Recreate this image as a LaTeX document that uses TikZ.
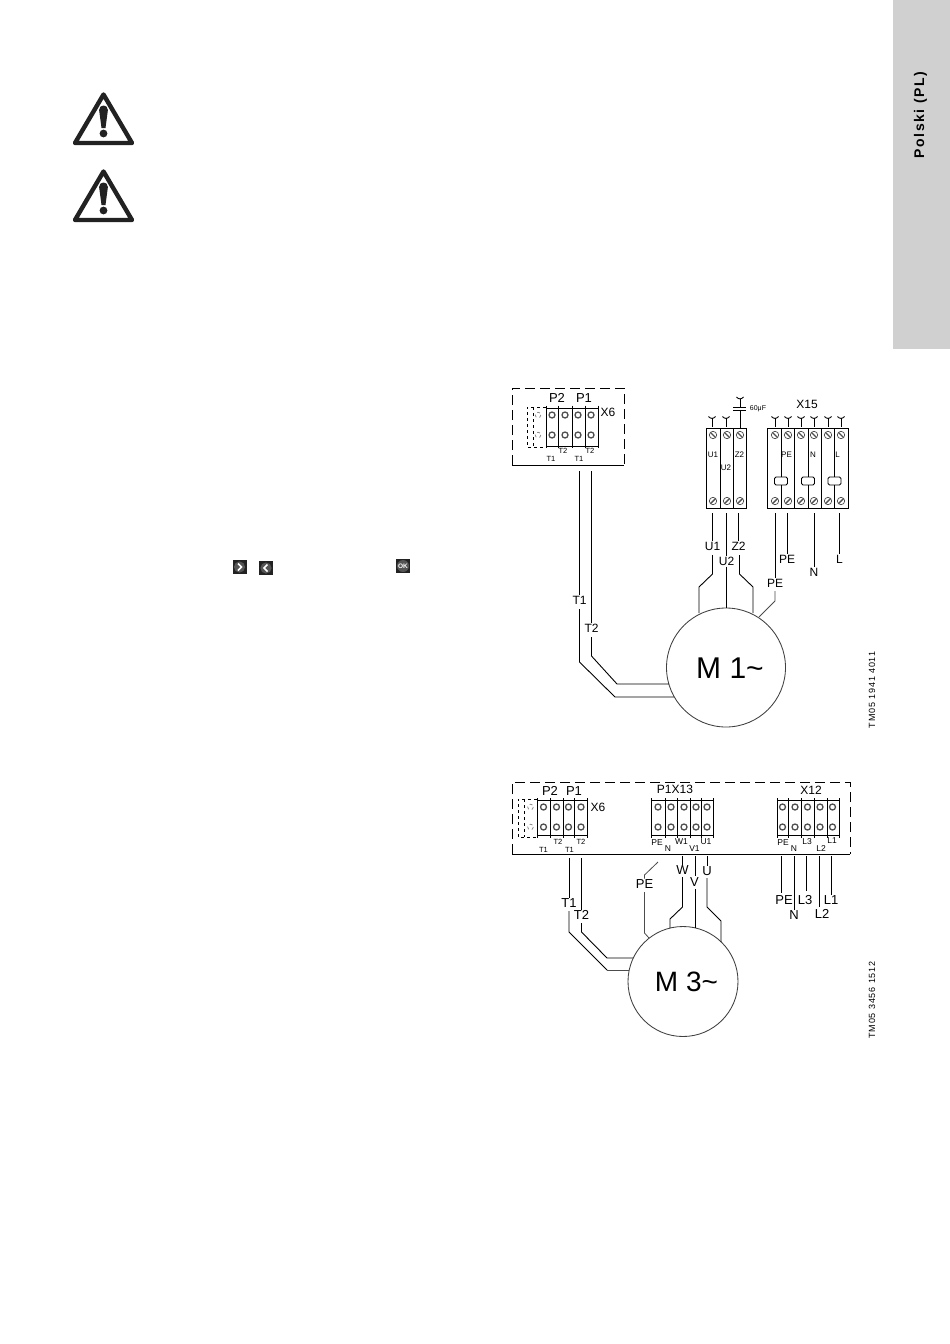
\documentclass[tikz,border=0pt]{standalone}
\usepackage{fontspec}
\setmainfont{Liberation Sans}
\definecolor{tabgray}{HTML}{D0D0D0}
\definecolor{ringgray}{HTML}{505050}
\definecolor{icondark}{HTML}{222222}
\definecolor{iconmid}{HTML}{555555}
\newcommand{\fs}[1]{\fontsize{#1}{#1}\selectfont}
\newcommand{\ringscrew}[2]{\draw[ringgray,line width=1.3pt] (#1,#2) circle (3);}
\newcommand{\slotscrew}[2]{\draw[line width=.7pt,ringgray] (#1,#2) circle (3.7);\draw[line width=1.4pt,ringgray] (#1-2.5,#2-2.5) -- (#1+2.5,#2+2.5);}
\newcommand{\slotscrewb}[2]{\draw[line width=.7pt,ringgray] (#1,#2) circle (3.7);\draw[line width=1.4pt,ringgray] (#1-2.5,#2+2.5) -- (#1+2.5,#2-2.5);}
\newcommand{\cupsym}[2]{\draw[thin wire] (#1-3.5,#2) .. controls (#1-1.5,#2+2.5) and (#1+1.5,#2+2.5) .. (#1+3.5,#2);\draw[thin wire] (#1,#2+1.5) -- (#1,427);}
\newcommand{\warn}[2]{%
 \draw[line width=4.4pt,line join=round,icondark] (#1,#2+3.5) -- (#1+28.5,#2+52) -- (#1-28.5,#2+52) -- cycle;
 \fill[icondark] (#1-4.4,#2+19) .. controls (#1-4.4,#2+13) and (#1+4.4,#2+13) .. (#1+4.4,#2+19) -- (#1+2,#2+37) -- (#1-2,#2+37) -- cycle;
 \fill[icondark] (#1,#2+42.5) circle (3.9);}
\tikzset{
 thin wire/.style={line width=.9pt,black},
 box line/.style={line width=.85pt,black},
 dash box/.style={line width=.85pt,dash pattern=on 10pt off 5pt},
 lab/.style={font=\fs{12},inner sep=1pt,text height=8.4pt,text depth=0pt},
 tiny/.style={font=\fs{7.5},inner sep=0pt},
 motor/.style={circle,draw=black!75,line width=.85pt,inner sep=0pt},
}
\begin{document}
\begin{tikzpicture}[x=1pt,y=-1pt]
\useasboundingbox (0,0) rectangle (950,1344);
\fill[white] (0,0) rectangle (950,1344);
% side tab
\fill[tabgray] (893,0) rectangle (950,349);
\node[rotate=90,font=\fs{14}\bfseries,inner sep=0pt] (tab) at (920.5,115) {\addfontfeature{LetterSpace=11}Polski (PL)};
% warnings
\warn{103.5}{91}
\warn{103.5}{168}
% key icons
\fill[icondark] (232.5,560) rectangle (246.5,574);
\fill[iconmid] (239.5,567) circle (5.6);
\draw[white,line width=1.6pt] (238,563.5) -- (241.5,567) -- (238,570.5);
\fill[icondark] (259,561) rectangle (273,575);
\fill[iconmid] (266,568) circle (5.6);
\draw[white,line width=1.6pt] (267.5,564.5) -- (264,568) -- (267.5,571.5);
\fill[icondark] (396,559) rectangle (410,573);
\fill[iconmid] (403,566) circle (6);
\node[font=\fs{6.5}\bfseries,text=white,inner sep=0pt] (okk) at (403,566) {OK};

%%% ---------- upper diagram
\draw[dash box] (512,465) -- (512,388) -- (624,388) -- (624,465);
\draw[box line] (512,465) -- (624,465);
% X6
\draw[dashed,line width=.7pt] (546,407) -- (527,407) -- (527,447) -- (546,447);
\draw[dashed,line width=.7pt] (533,407) -- (533,447);
\foreach \x in {546,558.5,572,585,598} {\draw[box line] (\x,405.5) -- (\x,448);}
\draw[line width=.7pt] (546,408) -- (598,408) (546,446) -- (598,446);
\foreach \x in {552,565,578,591} {\ringscrew{\x}{415}\ringscrew{\x}{435}}
\foreach \y in {415,435} {\draw[dashed,gray,line width=.7pt] (538,\y) circle (2.8);}
\node[lab,font=\fs{13}] (p2a) at (557,398) {P2};
\node[lab,font=\fs{13}] (p1a) at (584,398) {P1};
\node[lab] (x6a) at (608,412) {X6};
\node[tiny] (t2a) at (563,450.5) {T2};
\node[tiny] (t2b) at (590,450.5) {T2};
\node[tiny] (t1a) at (551,459) {T1};
\node[tiny] (t1b) at (579,459) {T1};
% block 1
\draw[box line] (706,428) rectangle (746,508);
\draw[box line] (720,428) -- (720,508) (733,428) -- (733,508);
\foreach \x in {713,727,740} {\slotscrew{\x}{435}\slotscrewb{\x}{501}}
\cupsym{712}{416.5}\cupsym{726}{416.5}
\draw[thin wire] (736.5,397) .. controls (738.5,399.5) and (741.5,399.5) .. (743.5,397);
\draw[thin wire] (740,398.5) -- (740,407);
\draw[box line] (733,407) -- (746,407) (733,410.5) -- (746,410.5);
\draw[thin wire] (740,410.5) -- (740,428);
\node[font=\fs{7},inner sep=0pt] (cap) at (758,409) {60μF};
\node[font=\fs{8},inner sep=0pt] (u1t) at (713,455) {U1};
\node[font=\fs{8},inner sep=0pt] (u2t) at (726,468) {U2};
\node[font=\fs{8},inner sep=0pt] (z2t) at (739.5,455) {Z2};
% block 2
\draw[box line] (767,428) rectangle (848,508);
\draw[box line] (794,428) -- (794,508) (821,428) -- (821,508);
\foreach \x in {781,808,834.5} {
 \draw[box line] (\x,428) -- (\x,477) (\x,485) -- (\x,508);
 \draw[box line,rounded corners=1.5pt] (\x-6.5,477) rectangle (\x+6.5,485);
}
\foreach \x in {775,788,801,814,828,841} {\slotscrew{\x}{435}\slotscrewb{\x}{501}\cupsym{\x}{416.5}}
\node[font=\fs{8},inner sep=0pt] (pet) at (786.5,455) {PE};
\node[font=\fs{8},inner sep=0pt] (nt) at (813,455) {N};
\node[font=\fs{8},inner sep=0pt] (lt) at (837.5,455) {L};
\node[lab] (x15) at (807,404) {X15};
% motor 1
\node[motor,minimum size=119pt] (m1) at (726,667.5) {};
\node[font=\fs{30},inner sep=0pt] (m1t) at (730,668) {M 1\char`~};
% T wires
\node[lab] (lT1) at (579.5,600) {T1};
\node[lab] (lT2) at (591.5,628) {T2};
\draw[thin wire] (579.5,471) -- (lT1.north);
\draw[thin wire] (579.5,609) -- (579.5,662) -- (615,697) -- (674,697);
\draw[thin wire] (591.5,471) -- (lT2.north);
\draw[thin wire] (591.5,637) -- (591.5,656) -- (617,684) -- (669,684);
% U/Z/PE
\node[lab] (lU1) at (712.5,546) {U1};
\node[lab] (lU2) at (726.5,561) {U2};
\node[lab] (lZ2) at (738.5,546) {Z2};
\node[lab] (lPE1) at (775,583) {PE};
\node[lab] (lPE2) at (787,559) {PE};
\node[lab] (lN) at (814,572) {N};
\node[lab] (lL) at (839.5,559) {L};
\draw[thin wire] (712.5,513) -- (lU1.north);
\draw[thin wire] (712.5,555) -- (712.5,574) -- (699,587) -- (699,613);
\draw[thin wire] (726.5,513) -- (lU2.north);
\draw[thin wire] (726.5,566.5) -- (726.5,608);
\draw[thin wire] (738.5,513) -- (lZ2.north);
\draw[thin wire] (739.5,555) -- (739.5,574) -- (753,587) -- (753,613);
\draw[thin wire] (775,513) -- (lPE1.north);
\draw[line width=.8pt,black!70] (775,591) -- (775,601) -- (759,617);
\draw[thin wire] (787,513) -- (lPE2.north);
\draw[thin wire] (814,513) -- (lN.north);
\draw[thin wire] (839.5,513) -- (lL.north);
\node[rotate=90,font=\fs{9},inner sep=0pt] (tm1) at (872,690) {\addfontfeature{LetterSpace=9}TM05 1941 4011};

%%% ---------- lower diagram
\draw[dash box] (512,854) -- (512,782) -- (850,782) -- (850,854);
\draw[box line] (512,854) -- (850,854);
% X6
\draw[dashed,line width=.7pt] (537,799) -- (518,799) -- (518,837) -- (537,837);
\draw[dashed,line width=.7pt] (524,799) -- (524,837);
\foreach \x in {537,550,563,574.5,587} {\draw[box line] (\x,798) -- (\x,838);}
\draw[line width=.7pt] (537,800.5) -- (587,800.5) (537,835.5) -- (587,835.5);
\foreach \x in {543.5,556.5,568.5,581} {\ringscrew{\x}{807}\ringscrew{\x}{827}}
\foreach \y in {807,827} {\draw[dashed,gray,line width=.7pt] (530.5,\y) circle (2.8);}
\node[lab,font=\fs{13}] (p2b) at (550,791) {P2};
\node[lab,font=\fs{13}] (p1b) at (574,791) {P1};
\node[lab] (x6b) at (598,807) {X6};
\node[tiny] (t2c) at (558,841.5) {T2};
\node[tiny] (t2d) at (581,841.5) {T2};
\node[tiny] (t1c) at (543.5,850) {T1};
\node[tiny] (t1d) at (569.5,850) {T1};
% X13
\foreach \x in {651,665,677,690,701,713} {\draw[box line] (\x,798) -- (\x,838);}
\draw[line width=.7pt] (651,800.5) -- (713,800.5) (651,835.5) -- (713,835.5);
\foreach \x in {658,671,684,696,707} {\ringscrew{\x}{807}\ringscrew{\x}{827}}
\node[lab] (px13) at (675,789) {P1X13};
\node[font=\fs{8.5},inner sep=0pt] (pe13) at (657,843) {PE};
\node[font=\fs{8.5},inner sep=0pt] (n13) at (668,849) {N};
\node[font=\fs{8.5},inner sep=0pt] (w13) at (681.5,842) {W1};
\node[font=\fs{8.5},inner sep=0pt] (v13) at (694.5,849) {V1};
\node[font=\fs{8.5},inner sep=0pt] (u13) at (706,842) {U1};
% X12
\foreach \x in {777,788.5,801,814,827,839} {\draw[box line] (\x,798) -- (\x,838);}
\draw[line width=.7pt] (777,800.5) -- (839,800.5) (777,835.5) -- (839,835.5);
\foreach \x in {782.5,795,807.5,820,832.5} {\ringscrew{\x}{807}\ringscrew{\x}{827}}
\node[lab] (x12) at (811,790) {X12};
\node[font=\fs{8.5},inner sep=0pt] (pe12) at (783,843) {PE};
\node[font=\fs{8.5},inner sep=0pt] (n12) at (794,849) {N};
\node[font=\fs{8.5},inner sep=0pt] (l312) at (807,842) {L3};
\node[font=\fs{8.5},inner sep=0pt] (l212) at (821,849) {L2};
\node[font=\fs{8.5},inner sep=0pt] (l112) at (832,841) {L1};
% X12 wires
\node[lab,font=\fs{13}] (lPE3) at (784,900) {PE};
\node[lab,font=\fs{13}] (lN3) at (794,915) {N};
\node[lab,font=\fs{13}] (lL3) at (805,900) {L3};
\node[lab,font=\fs{13}] (lL2) at (822,914.5) {L2};
\node[lab,font=\fs{13}] (lL1) at (831,900) {L1};
\draw[thin wire] (781.5,856) -- (781.5,893);
\draw[thin wire] (794,856) -- (lN3.north);
\draw[thin wire] (806.5,856) -- (806.5,891);
\draw[thin wire] (819.5,856) -- (819.5,907);
\draw[thin wire] (831,856) -- (lL1.north);
% motor 3
\node[motor,minimum size=110pt] (m3) at (683,981.5) {};
\node[font=\fs{28},inner sep=0pt] (m3t) at (686.5,982) {M 3\char`~};
% T wires
\node[lab,font=\fs{13}] (lT1b) at (569,903) {T1};
\node[lab,font=\fs{13}] (lT2b) at (581.5,915) {T2};
\draw[thin wire] (569,858) -- (lT1b.north);
\draw[thin wire] (569,911) -- (569,932) -- (607,970);
\draw[line width=.8pt,black!70] (607,970) -- (629,970);
\draw[thin wire] (581.5,858) -- (lT2b.north);
\draw[thin wire] (581.5,923) -- (581.5,932) -- (607,958) -- (633,958);
% motor wires
\node[lab,font=\fs{13}] (lPE4) at (644.5,884) {PE};
\node[lab,font=\fs{13}] (lW) at (682.5,870) {W};
\node[lab,font=\fs{13}] (lV) at (694.5,882) {V};
\node[lab,font=\fs{13}] (lU) at (707,871) {U};
\draw[line width=.8pt,black!70] (658,862) -- (644.5,875) -- (lPE4.north);
\draw[line width=.8pt,black!70] (644.5,892) -- (644.5,933) -- (649,938);
\draw[thin wire] (682.5,856) -- (lW.north);
\draw[thin wire] (682.5,877) -- (682.5,907) -- (670,919) -- (670,928);
\draw[thin wire] (695,856) -- (695,876);
\draw[thin wire] (695,889) -- (695,928);
\draw[thin wire] (707,856) -- (lU.north);
\draw[thin wire] (707,878) -- (707,907) -- (721,921) -- (721,942);
\node[rotate=90,font=\fs{9},inner sep=0pt] (tm3) at (872,1000) {\addfontfeature{LetterSpace=9}TM05 3456 1512};
\end{tikzpicture}
\end{document}
